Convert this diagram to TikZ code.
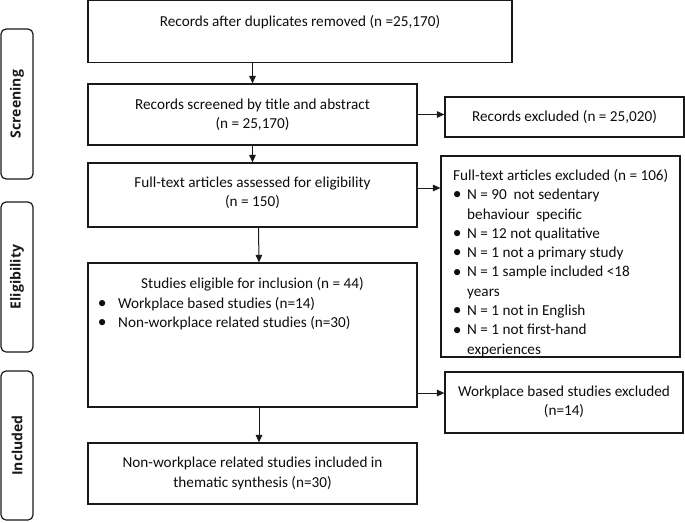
\documentclass[tikz,border=0pt]{standalone}
\usepackage{fontspec}
\setmainfont{Carlito}
\newfontfamily\tabfont{Open Sans}
\usetikzlibrary{arrows.meta}
\newcommand{\bdot}{\raisebox{-0.2pt}{\scalebox{1.15}{•}}}
\newcommand{\blt}{\makebox[8pt][c]{\bdot}\hspace*{6pt}}
\newcommand{\ind}{\hspace*{14pt}}
\newcommand{\bltb}{\makebox[10pt][c]{\bdot}\hspace*{11pt}}
\begin{document}
\begin{tikzpicture}[x=1pt,y=-1pt,
  box/.style={draw=black!90, line width=1.2pt, inner sep=0pt},
  txt/.style={inner sep=0pt, font=\fontsize{15.2}{19.3}\selectfont, align=center, text=black!95},
  tab/.style={draw=black!90, line width=1.2pt, rounded corners=5pt, inner sep=0pt},
  tabtxt/.style={inner sep=0pt, rotate=90, font=\tabfont\bfseries\fontsize{14}{16}\selectfont, text=black!90},
  arr/.style={-{Triangle[length=7.5pt,width=6.5pt]}, line width=1pt, draw=black!90}]
\useasboundingbox (0,0) rectangle (685,522);
% side tabs
\node[tab, minimum width=32, minimum height=150] (s1) at (17,104) {};
\node[tab, minimum width=32, minimum height=150] (s2) at (17,277) {};
\node[tab, minimum width=32, minimum height=149] (s3) at (17,445.5) {};
\node[tabtxt] (s1t) at (s1.center) {Screening};
\node[tabtxt] (s2t) at (s2.center) {Eligibility};
\node[tabtxt] (s3t) at (s3.center) {Included};
% main boxes
\node[box, minimum width=424, minimum height=62.5] (b1) at (300,31.5) {};
\node[box, minimum width=329, minimum height=61] (b2) at (252.5,114.5) {};
\node[box, minimum width=329, minimum height=64] (b3) at (252.5,195) {};
\node[box, minimum width=329, minimum height=144] (b4) at (252.5,335) {};
\node[box, minimum width=329, minimum height=61] (b5) at (252.5,473.5) {};
% right boxes
\node[box, minimum width=239, minimum height=40] (r1) at (564.5,117) {};
\node[box, minimum width=239, minimum height=201] (r2) at (560.5,256.5) {};
\node[box, minimum width=238, minimum height=61] (r3) at (564,402.5) {};
% texts
\node[txt] (t1) at (300,22) {Records after duplicates removed (n =25,170)};
\node[txt] (t2) at (252.5,115) {Records screened by title and abstract\\(n = 25,170)};
\node[txt] (t3) at (252.5,193) {Full-text articles assessed for eligibility\\(n = 150)};
\node[txt] (t4) at (252.5,284) {Studies eligible for inclusion (n = 44)};
\node[txt, align=left, anchor=west] (t4b) at (97,313.5) {\bltb Workplace based studies (n=14)\\\bltb Non-workplace related studies (n=30)};
\node[txt] (t5) at (252.5,473.5) {Non-workplace related studies included in\\thematic synthesis (n=30)};
\node[txt] (u1) at (564.5,117) {Records excluded (n = 25,020)};
\node[txt, align=left, anchor=west] (u2) at (453,263) {Full-text articles excluded (n = 106)\\
\blt N = 90\ \ not sedentary\\
\ind behaviour\ \ specific\\
\blt N = 12 not qualitative\\
\blt N = 1 not a primary study\\
\blt N = 1 sample included <18\\
\ind years\\
\blt N = 1 not in English\\
\blt N = 1 not first-hand\\
\ind experiences};
\node[txt] (u3) at (564,402) {Workplace based studies excluded\\(n=14)};
% connectors
\draw[arr] (b1.south -| b2.north) -- (b2.north);
\draw[arr] (b2.south) -- (b3.north);
\draw[arr] ([xshift=6pt]b3.south) -- ([xshift=6.5pt]b4.north);
\draw[arr] ([xshift=6.5pt]b4.south) -- ([xshift=6.5pt]b5.north);
\draw[arr] (b2.east) coordinate (a2) -- (a2 -| r1.west);
\draw[arr] ([yshift=7pt]b3.east) coordinate (a3) -- (a3 -| r2.west);
\draw[arr] ([yshift=-58pt]b4.east) coordinate (a4) -- (a4 -| r3.west);
\end{tikzpicture}
\end{document}
